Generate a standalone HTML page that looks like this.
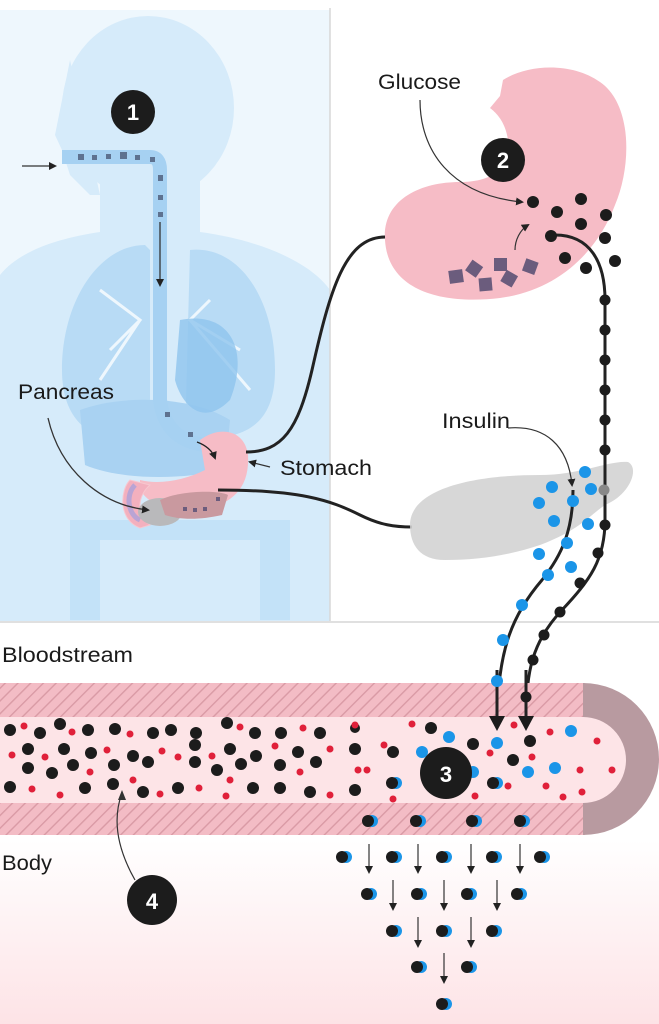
<!DOCTYPE html>
<html><head><meta charset="utf-8"><style>
body{margin:0;width:659px;height:1024px;overflow:hidden;background:#fff}
svg{display:block}
text{font-family:"Liberation Sans",sans-serif}
</style></head><body>
<svg width="659" height="1024" viewBox="0 0 659 1024" xmlns="http://www.w3.org/2000/svg">
<defs>
<pattern id="h" width="9" height="9" patternUnits="userSpaceOnUse" patternTransform="rotate(45)">
<rect width="9" height="9" fill="#f3bcc5"/><rect width="1.4" height="9" fill="#d99aa5"/></pattern>
<linearGradient id="bg" x1="0" y1="0" x2="0" y2="1"><stop offset="0" stop-color="#fff"/><stop offset="1" stop-color="#fde3e6"/></linearGradient>
<marker id="a" markerWidth="8" markerHeight="8" refX="6" refY="4" orient="auto" markerUnits="userSpaceOnUse"><path d="M0,0 L8,4 L0,8Z" fill="#222"/></marker>
<g id="p"><circle cx="4" cy="0" r="6" fill="#1b95e8"/><circle cx="0" cy="0" r="6" fill="#1c1c1c"/></g>
</defs>
<rect x="0" y="0" width="330" height="622" fill="#eef7fd"/>
<rect x="0" y="0" width="330" height="10" fill="#fff"/>
<g fill="#d6ebfa">
<ellipse cx="148" cy="108" rx="86" ry="92"/>
<rect x="100" y="170" width="100" height="70"/>
<path d="M0,622 L0,275 C20,250 60,238 100,232 L200,232 C260,240 310,262 330,290 L330,622Z"/>
<path d="M70,60 L55,135 L62,150 L70,175 L90,195 L100,195Z"/>
</g>
<g fill="#b8dbf5">
<path d="M145,245 C100,245 62,300 62,370 C62,420 90,445 140,440 L150,440 L150,250Z"/>
<path d="M190,250 C240,245 275,300 275,370 C275,420 250,440 200,438 L185,438Z"/>
<path d="M80,410 C120,395 190,395 230,420 L225,470 C180,480 120,480 85,465Z" fill="#a9d2f2"/>
<path d="M70,520 L290,520 L290,620 L70,620Z" fill="#c3e2f8"/>
<path d="M100,540 L260,540 L260,620 L100,620Z" fill="#d6ebfa"/>
</g>
<g stroke="#eef7fd" stroke-width="3" fill="none">
<path d="M100,290 L140,320 L110,350 M140,320 L100,380 M210,300 L190,320 L240,350 M190,320 L250,390"/>
</g>
<path d="M180,320 C230,310 250,350 230,400 C200,430 180,400 175,380Z" fill="#8fc4ee" opacity="0.8"/>
<path d="M62,157 L150,157 Q160,157 160,170 L160,400 Q165,440 205,445" stroke="#a6d1f2" stroke-width="14" fill="none"/>
<g fill="#5e7290">
<rect x="78" y="154" width="6" height="6"/><rect x="92" y="155" width="5" height="5"/><rect x="106" y="154" width="5" height="5"/><rect x="120" y="152" width="7" height="7"/><rect x="135" y="155" width="5" height="5"/><rect x="150" y="157" width="5" height="5"/><rect x="158" y="175" width="5" height="6"/><rect x="158" y="195" width="5" height="5"/><rect x="158" y="212" width="5" height="5"/><rect x="165" y="412" width="5" height="5"/><rect x="188" y="432" width="5" height="5"/><rect x="220" y="460" width="5" height="5"/>
</g>
<line x1="160" y1="222" x2="160" y2="285" stroke="#333" stroke-width="1.3" marker-end="url(#a)"/>
<line x1="22" y1="166" x2="55" y2="166" stroke="#333" stroke-width="1.3" marker-end="url(#a)"/>
<path d="M200,440 C220,425 245,430 248,455 C250,490 230,505 200,510 C170,515 150,505 140,490 L140,480 C160,485 185,480 205,470Z" fill="#f6bcc6"/>
<path d="M130,480 C120,490 118,520 140,528 L150,525 C135,515 138,495 150,485Z" fill="#f3b0be" stroke="#f7c7cf"/>
<path d="M135,485 C125,495 128,515 140,520" stroke="#b9a4d4" stroke-width="5" fill="none"/>
<ellipse cx="160" cy="512" rx="22" ry="14" fill="#b9b9bb"/>
<path d="M160,500 C180,490 220,490 228,495 L222,515 C200,520 180,520 165,515Z" fill="#c9999f"/>
<g fill="#6b5c7d"><rect x="183" y="507" width="4" height="4"/><rect x="193" y="508" width="4" height="4"/><rect x="203" y="507" width="4" height="4"/><rect x="216" y="497" width="4" height="4"/></g>
<path d="M197,442 C205,445 212,450 215,458" stroke="#222" stroke-width="1.3" fill="none" marker-end="url(#a)"/>
<path d="M270,467 L250,462" stroke="#333" stroke-width="1.3" marker-end="url(#a)"/>
<path d="M48,418 C60,470 100,505 148,510" stroke="#333" stroke-width="1.3" fill="none" marker-end="url(#a)"/>
<line x1="330" y1="8" x2="330" y2="622" stroke="#d7d7d7" stroke-width="1.5"/>
<line x1="0" y1="622" x2="659" y2="622" stroke="#e0e0e0" stroke-width="2"/>
<path d="M385,240 C382,200 420,182 460,182 C492,182 512,168 508,140 C505,120 495,112 490,108 L500,96 L503,80 C528,64 572,62 600,82 C632,104 632,165 615,205 C598,250 560,290 500,298 C440,305 388,290 385,240Z" fill="#f6bcc6"/>
<g fill="#6b5c7d">
<rect x="449" y="270" width="14" height="13" transform="rotate(-8 456 276)"/>
<rect x="468" y="262" width="13" height="13" transform="rotate(35 474 268)"/>
<rect x="494" y="258" width="13" height="13"/>
<rect x="479" y="278" width="13" height="13" transform="rotate(-5 485 284)"/>
<rect x="503" y="272" width="13" height="13" transform="rotate(30 509 278)"/>
<rect x="524" y="260" width="13" height="13" transform="rotate(20 530 266)"/>
</g>
<path d="M515,250 C515,240 520,230 528,225" stroke="#333" stroke-width="1.2" fill="none" marker-end="url(#a)"/>
<path d="M420,100 C420,150 450,195 522,202" stroke="#333" stroke-width="1.2" fill="none" marker-end="url(#a)"/>
<path d="M385,237 C345,237 330,290 312,370 C298,430 282,452 246,452" stroke="#222" stroke-width="3" fill="none"/>
<path d="M218,490 C300,490 330,500 360,515 C380,525 395,527 412,527" stroke="#222" stroke-width="3" fill="none"/>
<path d="M410,525 C410,490 470,475 540,475 C580,475 610,460 628,462 C640,468 630,495 605,505 C590,515 580,530 540,545 C510,555 480,560 445,560 C420,560 410,545 410,525Z" fill="#d3d3d3" opacity="0.9"/>
<path d="M555,235 C590,235 605,262 605,300 L605,520 C605,560 590,580 562,610 C532,642 526,672 526,720" stroke="#222" stroke-width="3" fill="none"/>
<path d="M573,490 C573,530 562,555 542,580 C512,615 498,650 497,720" stroke="#222" stroke-width="3" fill="none"/>
<g fill="#1c1c1c">
<circle cx="533" cy="202" r="6"/><circle cx="557" cy="212" r="6"/><circle cx="581" cy="199" r="6"/><circle cx="581" cy="224" r="6"/><circle cx="551" cy="236" r="6"/><circle cx="606" cy="215" r="6"/><circle cx="605" cy="238" r="6"/><circle cx="565" cy="258" r="6"/><circle cx="586" cy="268" r="6"/><circle cx="615" cy="261" r="6"/>
<circle cx="605" cy="300" r="5.5"/><circle cx="605" cy="330" r="5.5"/><circle cx="605" cy="360" r="5.5"/><circle cx="605" cy="390" r="5.5"/><circle cx="605" cy="420" r="5.5"/><circle cx="605" cy="450" r="5.5"/><circle cx="605" cy="525" r="5.5"/><circle cx="598" cy="553" r="5.5"/><circle cx="580" cy="583" r="5.5"/><circle cx="560" cy="612" r="5.5"/><circle cx="544" cy="635" r="5.5"/><circle cx="533" cy="660" r="5.5"/>
</g>
<circle cx="604" cy="490" r="5.5" fill="#888"/>
<g fill="#1b95e8">
<circle cx="585" cy="472" r="6"/><circle cx="552" cy="487" r="6"/><circle cx="591" cy="489" r="6"/><circle cx="539" cy="503" r="6"/><circle cx="573" cy="501" r="6"/><circle cx="554" cy="521" r="6"/><circle cx="588" cy="524" r="6"/><circle cx="567" cy="543" r="6"/><circle cx="539" cy="554" r="6"/><circle cx="571" cy="567" r="6"/><circle cx="548" cy="575" r="6"/><circle cx="522" cy="605" r="6"/><circle cx="503" cy="640" r="6"/>
</g>
<path d="M508,428 C545,425 568,445 572,485" stroke="#333" stroke-width="1.2" fill="none" marker-end="url(#a)"/>
<rect x="0" y="840" width="659" height="184" fill="url(#bg)"/>
<rect x="0" y="683" width="585" height="152" fill="url(#h)"/>
<path d="M583,683 A76,76 0 0 1 583,835Z" fill="#b89aa0"/>
<path d="M0,717 L583,717 A43,43 0 0 1 583,803 L0,803Z" fill="#fde4e7"/>
<path d="M497,670 L497,720 M526,670 L526,720" stroke="#222" stroke-width="3"/>
<circle cx="526" cy="697" r="5.5" fill="#1c1c1c"/>
<circle cx="497" cy="681" r="6" fill="#1b95e8"/>
<path d="M489,716 L505,716 L497,731Z M518,716 L534,716 L526,731Z" fill="#1c1c1c"/>
<g fill="#1c1c1c">
<circle cx="10" cy="730" r="6"/><circle cx="40" cy="733" r="6"/><circle cx="60" cy="724" r="6"/><circle cx="88" cy="730" r="6"/><circle cx="115" cy="729" r="6"/><circle cx="153" cy="733" r="6"/><circle cx="171" cy="730" r="6"/><circle cx="196" cy="733" r="6"/><circle cx="227" cy="723" r="6"/><circle cx="255" cy="733" r="6"/><circle cx="281" cy="733" r="6"/><circle cx="320" cy="733" r="6"/>
<circle cx="28" cy="749" r="6"/><circle cx="64" cy="749" r="6"/><circle cx="91" cy="753" r="6"/><circle cx="133" cy="756" r="6"/><circle cx="195" cy="745" r="6"/><circle cx="230" cy="749" r="6"/><circle cx="256" cy="756" r="6"/><circle cx="298" cy="752" r="6"/><circle cx="355" cy="749" r="6"/><circle cx="393" cy="752" r="6"/>
<circle cx="28" cy="768" r="6"/><circle cx="52" cy="773" r="6"/><circle cx="73" cy="765" r="6"/><circle cx="114" cy="765" r="6"/><circle cx="148" cy="762" r="6"/><circle cx="195" cy="762" r="6"/><circle cx="217" cy="770" r="6"/><circle cx="241" cy="764" r="6"/><circle cx="280" cy="765" r="6"/><circle cx="316" cy="762" r="6"/>
<circle cx="10" cy="787" r="6"/><circle cx="85" cy="788" r="6"/><circle cx="113" cy="784" r="6"/><circle cx="143" cy="792" r="6"/><circle cx="178" cy="788" r="6"/><circle cx="253" cy="788" r="6"/><circle cx="280" cy="788" r="6"/><circle cx="310" cy="792" r="6"/><circle cx="355" cy="790" r="6"/><circle cx="355" cy="728" r="5"/>
<circle cx="431" cy="728" r="6"/><circle cx="473" cy="744" r="6"/><circle cx="513" cy="760" r="6"/><circle cx="530" cy="741" r="6"/>
</g>
<g fill="#e0203a">
<circle cx="24" cy="726" r="3.5"/><circle cx="72" cy="732" r="3.5"/><circle cx="130" cy="734" r="3.5"/><circle cx="240" cy="727" r="3.5"/><circle cx="303" cy="728" r="3.5"/>
<circle cx="12" cy="755" r="3.5"/><circle cx="45" cy="757" r="3.5"/><circle cx="107" cy="750" r="3.5"/><circle cx="162" cy="751" r="3.5"/><circle cx="178" cy="757" r="3.5"/><circle cx="212" cy="756" r="3.5"/><circle cx="275" cy="746" r="3.5"/><circle cx="330" cy="749" r="3.5"/>
<circle cx="90" cy="772" r="3.5"/><circle cx="133" cy="780" r="3.5"/><circle cx="230" cy="780" r="3.5"/><circle cx="300" cy="772" r="3.5"/><circle cx="358" cy="770" r="3.5"/>
<circle cx="32" cy="789" r="3.5"/><circle cx="60" cy="795" r="3.5"/><circle cx="160" cy="794" r="3.5"/><circle cx="199" cy="788" r="3.5"/><circle cx="226" cy="796" r="3.5"/><circle cx="330" cy="795" r="3.5"/>
<circle cx="355" cy="725" r="3.5"/><circle cx="384" cy="745" r="3.5"/><circle cx="393" cy="799" r="3.5"/><circle cx="367" cy="770" r="3.5"/><circle cx="412" cy="724" r="3.5"/><circle cx="490" cy="753" r="3.5"/><circle cx="514" cy="725" r="3.5"/><circle cx="532" cy="757" r="3.5"/><circle cx="550" cy="732" r="3.5"/><circle cx="597" cy="741" r="3.5"/><circle cx="580" cy="770" r="3.5"/><circle cx="612" cy="770" r="3.5"/><circle cx="546" cy="786" r="3.5"/><circle cx="563" cy="797" r="3.5"/><circle cx="582" cy="792" r="3.5"/><circle cx="475" cy="796" r="3.5"/><circle cx="508" cy="786" r="3.5"/>
</g>
<g fill="#1b95e8">
<circle cx="449" cy="737" r="6"/><circle cx="497" cy="743" r="6"/><circle cx="422" cy="752" r="6"/><circle cx="528" cy="772" r="6"/><circle cx="555" cy="768" r="6"/><circle cx="571" cy="731" r="6"/><circle cx="473" cy="772" r="6"/>
</g>
<use href="#p" x="392" y="783"/><use href="#p" x="493" y="783"/>
<use href="#p" x="368" y="821"/><use href="#p" x="416" y="821"/><use href="#p" x="472" y="821"/><use href="#p" x="520" y="821"/>
<use href="#p" x="342" y="857"/><use href="#p" x="392" y="857"/><use href="#p" x="442" y="857"/><use href="#p" x="492" y="857"/><use href="#p" x="540" y="857"/>
<use href="#p" x="367" y="894"/><use href="#p" x="417" y="894"/><use href="#p" x="467" y="894"/><use href="#p" x="517" y="894"/>
<use href="#p" x="392" y="931"/><use href="#p" x="442" y="931"/><use href="#p" x="492" y="931"/>
<use href="#p" x="417" y="967"/><use href="#p" x="467" y="967"/>
<use href="#p" x="442" y="1004"/>
<g stroke="#333" stroke-width="1.2" marker-end="url(#a)">
<line x1="369" y1="844" x2="369" y2="872"/><line x1="418" y1="844" x2="418" y2="872"/><line x1="471" y1="844" x2="471" y2="872"/><line x1="520" y1="844" x2="520" y2="872"/>
<line x1="393" y1="880" x2="393" y2="909"/><line x1="444" y1="880" x2="444" y2="909"/><line x1="497" y1="880" x2="497" y2="909"/>
<line x1="418" y1="917" x2="418" y2="946"/><line x1="471" y1="917" x2="471" y2="946"/>
<line x1="444" y1="953" x2="444" y2="982"/>
</g>
<path d="M122,793 C112,820 118,850 135,880" stroke="#333" stroke-width="1.2" fill="none"/>
<path d="M122,790 L118,800 L126,800Z" fill="#333"/>
<g font-size="22" font-weight="bold" fill="#fff" text-anchor="middle">
<circle cx="133" cy="112" r="22" fill="#1c1c1c"/><text x="133" y="120">1</text>
<circle cx="503" cy="160" r="22" fill="#1c1c1c"/><text x="503" y="168">2</text>
<circle cx="446" cy="773" r="26" fill="#1c1c1c"/><text x="446" y="782">3</text>
<circle cx="152" cy="900" r="25" fill="#1c1c1c"/><text x="152" y="909">4</text>
</g>
<g font-size="21" fill="#1a1a1a">
<text x="378" y="89" textLength="83" lengthAdjust="spacingAndGlyphs">Glucose</text>
<text x="18" y="399" textLength="96" lengthAdjust="spacingAndGlyphs">Pancreas</text>
<text x="280" y="475" textLength="92" lengthAdjust="spacingAndGlyphs">Stomach</text>
<text x="442" y="428" textLength="68" lengthAdjust="spacingAndGlyphs">Insulin</text>
<text x="2" y="662" textLength="131" lengthAdjust="spacingAndGlyphs">Bloodstream</text>
<text x="2" y="870" textLength="50" lengthAdjust="spacingAndGlyphs">Body</text>
</g>
</svg>
</body></html>
